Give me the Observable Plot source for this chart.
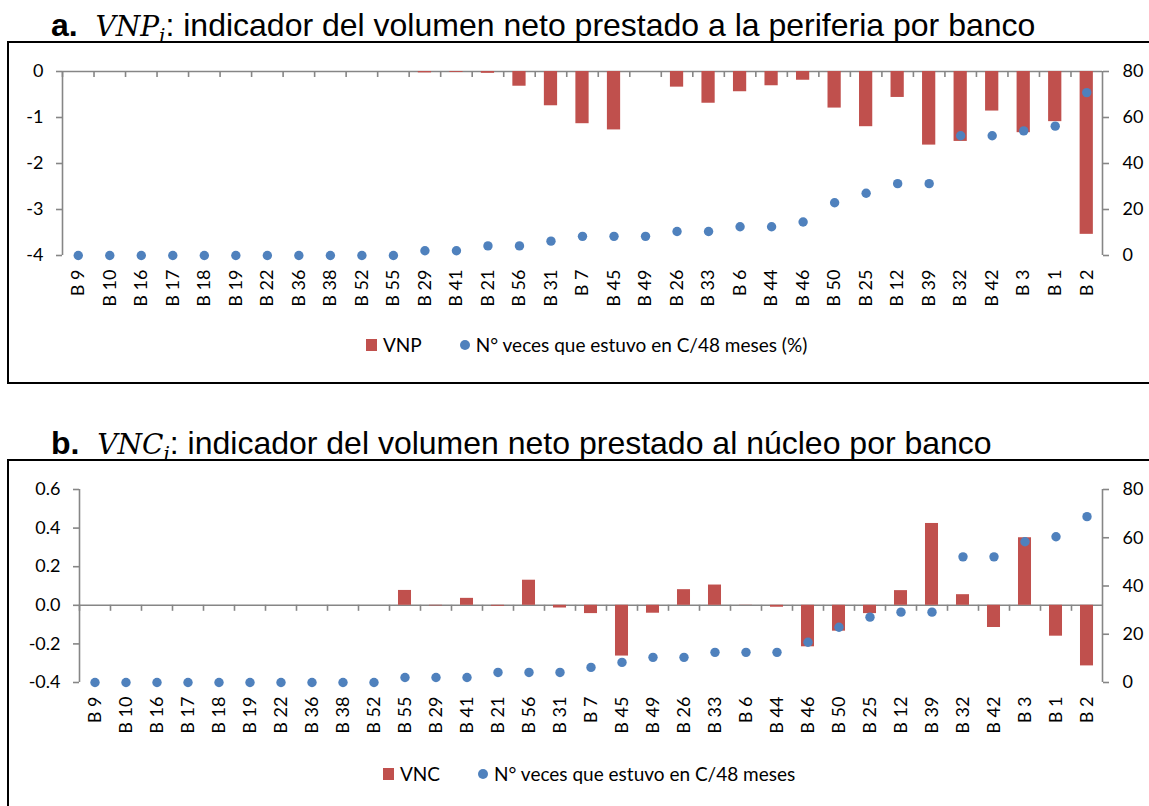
<!DOCTYPE html>
<html><head><meta charset="utf-8">
<script src="https://cdn.jsdelivr.net/npm/d3@7"></script>
<script src="https://cdn.jsdelivr.net/npm/@observablehq/plot@0.6"></script>
<style>
body{margin:0;background:#fff;width:1149px;height:806px;overflow:hidden;position:relative;font-family:Lato,sans-serif}
.title{position:absolute;left:51px;font-family:"Liberation Sans",Arial,sans-serif;font-size:32px;line-height:32px;white-space:nowrap;color:#000}
.title .m{font-family:"DejaVu Serif","Liberation Serif",serif;font-style:italic;font-size:28px}
.title sub{font-size:20px;line-height:0;vertical-align:-7px}
.box{position:absolute;left:7px;width:1160px;border:2px solid #000;box-sizing:border-box}
.inner{position:relative;width:1140px}
.inner svg{position:absolute;left:0;top:0;overflow:visible}
.legend{position:absolute;font-family:Lato,sans-serif;font-size:19px;line-height:23px;color:#000;white-space:nowrap;display:flex;align-items:center}
.sq{display:inline-block;width:11px;height:12px;background:#C0504D;margin-right:6px}
.dt{display:inline-block;width:10px;height:10px;border-radius:50%;background:#4F81BD;margin-left:38px;margin-right:6px}
</style>
</head><body>
<div class="title" style="top:9px"><b>a.</b>&nbsp; <span class="m">VNP<sub>i</sub></span>: indicador del volumen neto prestado a la periferia por banco</div>
<div class="box" style="top:41px;height:343px"><div class="inner" id="pa"></div></div>
<div class="title" style="top:427px"><b>b.</b>&nbsp; <span class="m">VNC<sub>i</sub></span>: indicador del volumen neto prestado al núcleo por banco</div>
<div class="box" style="top:459px;height:360px"><div class="inner" id="pb"></div></div>
<script>
const banks = ["B 9","B 10","B 16","B 17","B 18","B 19","B 22","B 36","B 38","B 52","B 55","B 29","B 41","B 21","B 56","B 31","B 7","B 45","B 49","B 26","B 33","B 6","B 44","B 46","B 50","B 25","B 12","B 39","B 32","B 42","B 3","B 1","B 2"];

const vnp = [0,0,0,0,0,0,0,0,0,0,0,-0.03,-0.02,-0.04,-0.32,-0.745,-1.135,-1.27,0,-0.34,-0.69,-0.44,-0.31,-0.19,-0.795,-1.2,-0.564,-1.6,-1.52,-0.86,-1.33,-1.09,-3.54];
const vecesA = [0,0,0,0,0,0,0,0,0,0,0,2.08,2.08,4.17,4.17,6.25,8.33,8.33,8.33,10.42,10.42,12.5,12.5,14.58,22.92,27.08,31.25,31.25,52.08,52.08,54.17,56.25,70.83];

const vnc = [0,0,0,0,0,0,0,0,0,0,0.077,-0.003,0.036,-0.005,0.13,-0.014,-0.043,-0.263,-0.041,0.081,0.105,-0.001,-0.01,-0.215,-0.134,-0.043,0.076,0.424,0.055,-0.115,0.35,-0.16,-0.314];
const vecesB = [0,0,0,0,0,0,0,0,0,0,2.08,2.08,2.08,4.17,4.17,4.17,6.25,8.33,10.42,10.42,12.5,12.5,12.5,16.67,22.92,27.08,29.17,29.17,52.08,52.08,58.33,60.42,68.75];

const leftTicksA = [-4,-3,-2,-1,0];
const leftTicksB = [-0.4,-0.2,0,0.2,0.4,0.6];
const rightTicks = [0,20,40,60,80];

const RED = "#C0504D", BLUE = "#4F81BD", GRAY = "#868686";
const W = 1140;

function panel(el, {vals, pct, yDomain, yTicks, yFmt, h, mt, mb, ml, mr, barLabel, dotLabel, legendTop, legendLeft}) {
  const data = banks.map((b, i) => ({bank: b, v: vals[i], p: pct[i]}));
  const step = (W - ml - mr) / banks.length;
  const plotH = h - mt - mb;
  const tickV = (yDomain[1] - yDomain[0]) * 6 / plotH;
  const xOpt = {domain: banks, paddingInner: 0.58, paddingOuter: 0.29, round: false, axis: null};
  const common = {width: W, height: h, marginTop: mt, marginBottom: mb, marginLeft: ml, marginRight: mr,
    style: {fontFamily: "Lato, sans-serif", fontSize: "18px", color: "#000", background: "transparent"}};
  const p1 = Plot.plot({
    ...common,
    x: xOpt,
    y: {domain: yDomain, axis: null},
    marks: [
      Plot.ruleY([0], {stroke: GRAY, strokeWidth: 1.6}),
      Plot.ruleX(banks, {x: d => d, y1: 0, y2: -tickV, dx: -step / 2, stroke: GRAY, strokeWidth: 1.6}),
      Plot.ruleX([banks[0]], {x: d => d, y1: yDomain[0], y2: yDomain[1], dx: -step / 2, stroke: GRAY, strokeWidth: 1.6}),
      Plot.barY(data, {x: "bank", y: "v", fill: RED}),
      Plot.axisY({ticks: yTicks, tickFormat: yFmt, tickSize: 6, tickPadding: 13, stroke: GRAY, strokeWidth: 1.6, fill: "#000", label: null}),
      Plot.axisX({anchor: "bottom", tickRotate: -90, tickSize: 0, tickPadding: 14, fill: "#000", label: null})
    ]
  });
  const p2 = Plot.plot({
    ...common,
    x: xOpt,
    y: {domain: [0, 80], axis: null},
    marks: [
      Plot.ruleX([banks[banks.length - 1]], {x: d => d, y1: 0, y2: 80, dx: step / 2, stroke: GRAY, strokeWidth: 1.6}),
      Plot.axisY({anchor: "right", ticks: rightTicks, tickSize: 6, tickPadding: 14, stroke: GRAY, strokeWidth: 1.6, fill: "#000", label: null}),
      Plot.dot(data, {x: "bank", y: "p", r: 4.7, fill: BLUE})
    ]
  });
  const c = document.getElementById(el);
  c.style.height = h + "px";
  c.appendChild(p1);
  c.appendChild(p2);
  const lg = document.createElement("div");
  lg.className = "legend";
  lg.style.top = legendTop + "px";
  lg.style.left = legendLeft + "px";
  lg.innerHTML = `<span class="sq"></span><span>${barLabel}</span><span class="dt"></span><span>${dotLabel}</span>`;
  c.appendChild(lg);
}

panel("pa", {vals: vnp, pct: vecesA, yDomain: [-4, 0], yTicks: leftTicksA, yFmt: d => String(d),
  h: 339, mt: 28, mb: 127, ml: 53, mr: 47, barLabel: "VNP", dotLabel: "N° veces que estuvo en C/48 meses (%)",
  legendTop: 290, legendLeft: 357});
panel("pb", {vals: vnc, pct: vecesB, yDomain: [-0.4, 0.6], yTicks: leftTicksB, yFmt: d => (d < 0 ? "-" : "") + Math.abs(d).toFixed(1),
  h: 345, mt: 28, mb: 124, ml: 70, mr: 47, barLabel: "VNC", dotLabel: "N° veces que estuvo en C/48 meses",
  legendTop: 301, legendLeft: 374});
</script>
</body></html>
